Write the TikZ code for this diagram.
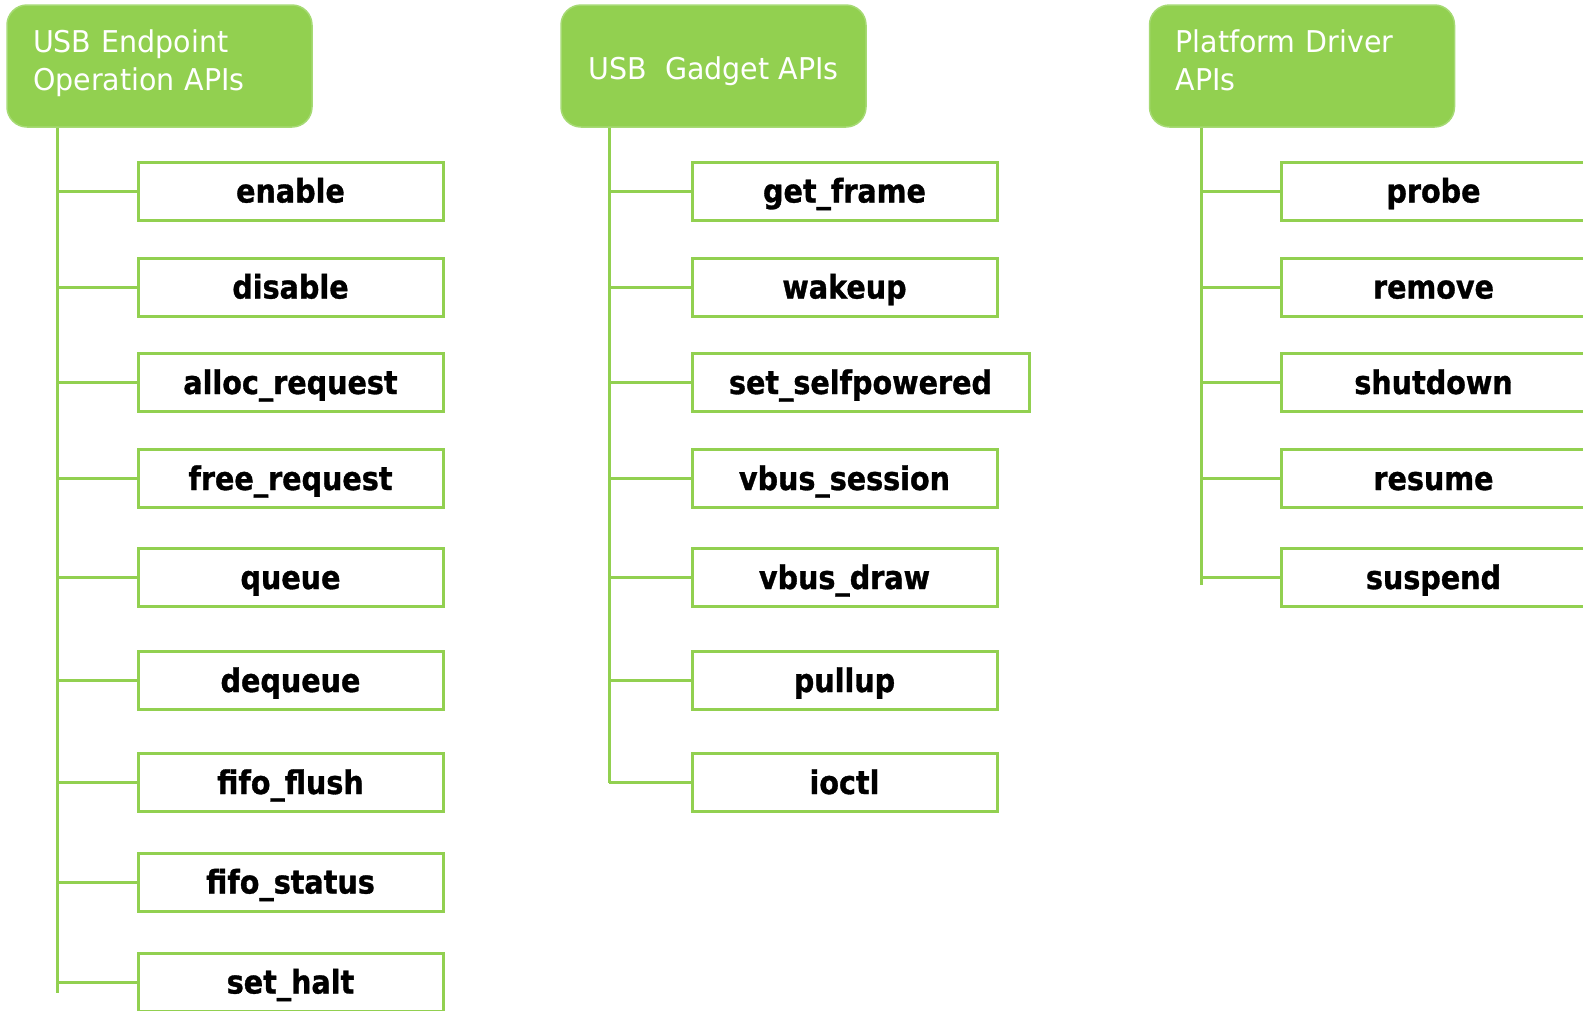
\documentclass[tikz,border=0pt]{standalone}
\usepackage{fontspec}
\newfontfamily\headfont[FakeStretch=0.95]{DejaVu Sans}
\newfontfamily\itemfont[FakeStretch=0.88,FakeBold=1]{DejaVu Sans}
\definecolor{apigreen}{HTML}{92D050}
\definecolor{apiedge}{HTML}{A6DA74}

\begin{document}
\begin{tikzpicture}[x=1pt,y=-1pt,
  header/.style={fill=apigreen, draw=apiedge, line width=1.5pt,
    rounded corners=20pt, minimum width=305pt, minimum height=122pt,
    inner sep=0pt, text=white, font=\headfont\fontsize{30}{38}\selectfont},
  twoline/.style={text width=253pt, align=left, text height=22pt, text depth=50pt},
  item/.style={draw=apigreen, line width=3pt, fill=white,
    minimum width=305pt, minimum height=58pt, inner sep=0pt,
    text height=23pt, text depth=0pt,
    font=\itemfont\bfseries\fontsize{32.5}{36}\selectfont},
  wire/.style={draw=apigreen, line width=3pt}]

\useasboundingbox (0,0) rectangle (1583,1010);

% group headers
\node[header, twoline] (h1) at (159.5,66) {USB Endpoint\\Operation APIs};
\node[header, text height=26pt, text depth=0pt] (h2) at (713.5,66) {USB\ \ Gadget APIs};
\node[header, twoline] (h3) at (1302,66) {Platform Driver\\APIs};

% endpoint operations
\node[item] (enable)     at (290.5,191)   {enable};
\node[item] (disable)    at (290.5,287)   {disable};
\node[item] (allocreq)   at (290.5,382.5) {alloc\_request};
\node[item] (freereq)    at (290.5,478.5) {free\_request};
\node[item] (queue)      at (290.5,577.5) {queue};
\node[item] (dequeue)    at (290.5,680.5) {dequeue};
\node[item] (fifoflush)  at (290.5,782.5) {fifo\_flush};
\node[item] (fifostatus) at (290.5,882)   {fifo\_status};
\node[item] (sethalt)    at (290.5,982)   {set\_halt};

% gadget operations
\node[item] (getframe)    at (844.5,191)   {get\_frame};
\node[item] (wakeup)      at (844.5,287)   {wakeup};
\node[item, minimum width=337pt] (selfpowered) at (860.5,382.5) {set\_selfpowered};
\node[item] (vbussession) at (844.5,478.5) {vbus\_session};
\node[item] (vbusdraw)    at (844.5,577.5) {vbus\_draw};
\node[item] (pullup)      at (844.5,680.5) {pullup};
\node[item] (ioctl)       at (844.5,782.5) {ioctl};

% platform driver callbacks
\node[item] (probe)    at (1433.5,191)   {probe};
\node[item] (remove)   at (1433.5,287)   {remove};
\node[item] (shutdown) at (1433.5,382.5) {shutdown};
\node[item] (resume)   at (1433.5,478.5) {resume};
\node[item] (suspend)  at (1433.5,577.5) {suspend};

% trunk ends
\coordinate (t1) at (57,993);
\coordinate (t2) at (609,783);
\coordinate (t3) at (1201,585);

\draw[wire] (h1.south -| t1) -- (t1);
\draw[wire] (h2.south -| t2) -- (t2);
\draw[wire] (h3.south -| t3) -- (t3);

\foreach \n in {enable,disable,allocreq,freereq,queue,dequeue,fifoflush,fifostatus,sethalt}
  \draw[wire] (\n.west -| t1) -- (\n.west);
\foreach \n in {getframe,wakeup,selfpowered,vbussession,vbusdraw,pullup,ioctl}
  \draw[wire] (\n.west -| t2) -- (\n.west);
\foreach \n in {probe,remove,shutdown,resume,suspend}
  \draw[wire] (\n.west -| t3) -- (\n.west);
\end{tikzpicture}
\end{document}
